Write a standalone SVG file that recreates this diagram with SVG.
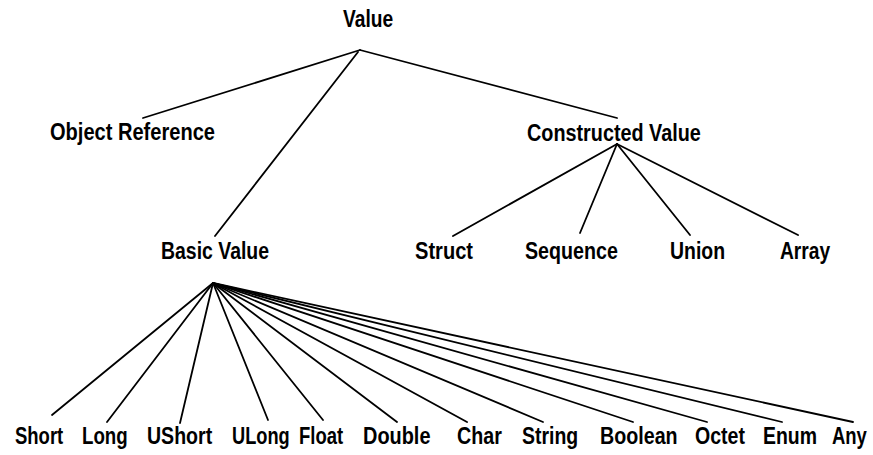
<svg xmlns="http://www.w3.org/2000/svg" width="873" height="455" viewBox="0 0 873 455">
<style>
text{font-family:"Liberation Sans",Arial,sans-serif;font-weight:bold;font-size:24px;fill:#000}
.c line{stroke:#000;stroke-width:1.8;stroke-linecap:round}
</style>
<rect width="873" height="455" fill="#fff"/>
<g id="connectors" class="c">
<line x1="360" y1="50" x2="143" y2="118"/>
<line x1="360" y1="50" x2="617" y2="118"/>
<line x1="358" y1="52" x2="215" y2="236"/>
<line x1="617" y1="144" x2="453" y2="236"/>
<line x1="617" y1="144" x2="580" y2="233"/>
<line x1="617" y1="144" x2="690" y2="235"/>
<line x1="617" y1="144" x2="798" y2="235"/>
<line x1="213" y1="283" x2="52" y2="415"/>
<line x1="213" y1="283" x2="107" y2="422"/>
<line x1="213" y1="283" x2="180" y2="423"/>
<line x1="213" y1="283" x2="268" y2="420"/>
<line x1="213" y1="283" x2="323" y2="420"/>
<line x1="213" y1="283" x2="397" y2="422"/>
<line x1="213" y1="283" x2="467" y2="422"/>
<line x1="213" y1="283" x2="543" y2="422"/>
<line x1="213" y1="283" x2="633" y2="422"/>
<line x1="213" y1="283" x2="707" y2="422"/>
<line x1="213" y1="283" x2="782" y2="422"/>
<line x1="213" y1="283" x2="853" y2="422"/>
</g>
<g id="value"><text transform="translate(343,27) scale(0.8,1)">Value</text></g>
<g id="object-reference"><text transform="translate(50,140) scale(0.836,1)">Object Reference</text></g>
<g id="constructed-value"><text transform="translate(527,141) scale(0.825,1)">Constructed Value</text></g>
<g id="basic-value"><text transform="translate(161,259) scale(0.81,1)">Basic Value</text></g>
<g id="struct"><text transform="translate(415,259) scale(0.837,1)">Struct</text></g>
<g id="sequence"><text transform="translate(525,259) scale(0.82,1)">Sequence</text></g>
<g id="union"><text transform="translate(670,259) scale(0.81,1)">Union</text></g>
<g id="array"><text transform="translate(780,259) scale(0.8,1)">Array</text></g>
<g id="short"><text transform="translate(15,444) scale(0.77,1)">Short</text></g>
<g id="long"><text transform="translate(82,444) scale(0.78,1)">Long</text></g>
<g id="ushort"><text transform="translate(147,444) scale(0.815,1)">UShort</text></g>
<g id="ulong"><text transform="translate(232,444) scale(0.76,1)">ULong</text></g>
<g id="float"><text transform="translate(299,444) scale(0.77,1)">Float</text></g>
<g id="double"><text transform="translate(363,444) scale(0.83,1)">Double</text></g>
<g id="char"><text transform="translate(457,444) scale(0.82,1)">Char</text></g>
<g id="string"><text transform="translate(522,444) scale(0.81,1)">String</text></g>
<g id="boolean"><text transform="translate(600,444) scale(0.82,1)">Boolean</text></g>
<g id="octet"><text transform="translate(695,444) scale(0.815,1)">Octet</text></g>
<g id="enum"><text transform="translate(763,444) scale(0.81,1)">Enum</text></g>
<g id="any"><text transform="translate(832,444) scale(0.77,1)">Any</text></g>
</svg>
